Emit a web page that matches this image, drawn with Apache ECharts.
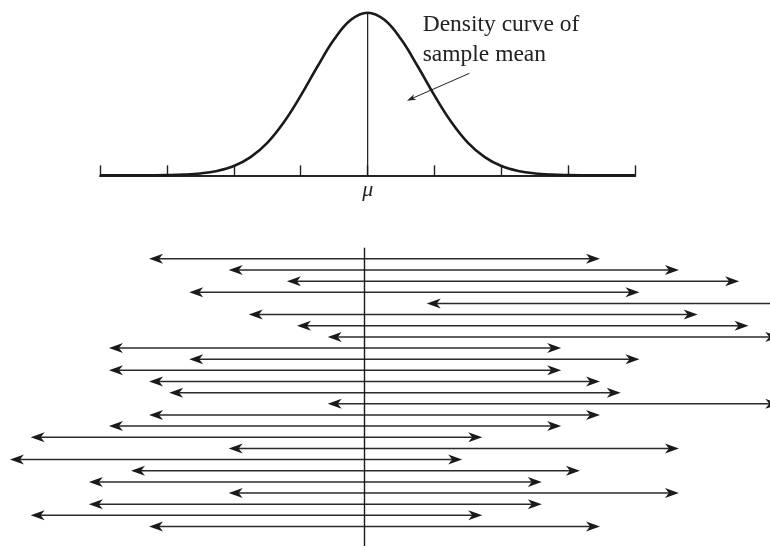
<!DOCTYPE html>
<html><head><meta charset="utf-8">
<script src="https://cdn.jsdelivr.net/npm/echarts@6/dist/echarts.min.js"></script>
<style>html,body{margin:0;padding:0;background:#fff}#c{width:770px;height:546px}</style>
</head><body><div id="c"></div>
<script>
// Density curve of the sample mean (x in tick units, mu = 0), heights relative to the peak
const curveX = [-4,-3.75,-3.5,-3.25,-3,-2.75,-2.5,-2.25,-2,-1.75,-1.5,-1.25,-1,-0.75,-0.5,-0.25,0,0.25,0.5,0.75,1,1.25,1.5,1.75,2,2.25,2.5,2.75,3,3.25,3.5,3.75,4];
const curveY = [0,0,0.0002,0.0005,0.0016,0.0045,0.0115,0.027,0.057,0.112,0.2,0.328,0.49,0.669,0.836,0.956,1,0.956,0.836,0.669,0.49,0.328,0.2,0.112,0.057,0.027,0.0115,0.0045,0.0016,0.0005,0.0002,0,0];
const tickValues = [-4,-3,-2,-1,0,1,2,3,4];
const tickLabels = ['', '', '', '', 'μ', '', '', '', ''];
const mu = 0;
// Confidence intervals (lower / upper ends), one per row from top to bottom
const intervalLower = [-3.22,-2.03,-1.16,-2.62,0.93,-1.73,-1.01,-0.55,-3.82,-2.62,-3.82,-3.22,-2.92,-0.55,-3.22,-3.82,-4.99,-2.03,-5.30,-3.49,-4.12,-2.03,-4.12,-4.99,-3.22];
const intervalUpper = [3.52,4.70,5.60,4.11,7.68,4.98,5.74,6.20,2.94,4.11,2.94,3.52,3.83,6.20,3.52,2.94,1.76,4.70,1.46,3.22,2.65,4.70,2.65,1.76,3.52];
const annotationLines = ['Density curve of', 'sample mean'];
const annotationArrow = [[1.52, 0.627], [0.587, 0.459]]; // tail, tip

function headPoints(tail, tip, len, half, notch) {
  const dx = tip[0] - tail[0], dy = tip[1] - tail[1];
  const d = Math.hypot(dx, dy) || 1, ux = dx / d, uy = dy / d, px = -uy, py = ux;
  return [
    [tip[0], tip[1]],
    [tip[0] - ux * len + px * half, tip[1] - uy * len + py * half],
    [tip[0] - ux * notch, tip[1] - uy * notch],
    [tip[0] - ux * len - px * half, tip[1] - uy * len - py * half]
  ];
}

const curveData = curveX.map((x, i) => [x, curveY[i]]);
const intervalData = intervalLower.map((lo, i) => [lo, intervalUpper[i], i]);

const chart = echarts.init(document.getElementById('c'), null, {renderer: 'canvas'});
chart.setOption({
  animation: false,
  backgroundColor: '#fff',
  grid: [
    {left: 100, right: 134.7, top: 12.7, bottom: 370.7},
    {left: 96.9, right: 137.9, top: 247.7, bottom: 0}
  ],
  xAxis: [
    {gridIndex: 0, type: 'value', min: -4, max: 4, interval: 1,
      axisLine: {show: true, onZero: false, lineStyle: {color: '#222', width: 2}},
      axisTick: {show: true, inside: true, length: 10, lineStyle: {color: '#222', width: 1.4}},
      axisLabel: {show: true, margin: 4, fontFamily: 'Liberation Serif', fontStyle: 'italic', fontSize: 22, color: '#222',
        formatter: v => { const k = tickValues.indexOf(v); return k >= 0 ? tickLabels[k] : ''; }},
      splitLine: {show: false}},
    {gridIndex: 1, type: 'value', min: -4, max: 4, show: false}
  ],
  yAxis: [
    {gridIndex: 0, type: 'value', min: 0, max: 1, show: false},
    {gridIndex: 1, type: 'value', min: -1, max: 25.75, inverse: true, show: false}
  ],
  graphic: [
    {type: 'text', left: 422.7, top: 10.6, silent: true,
      style: {text: annotationLines.join('\n'), fontFamily: 'Liberation Serif', fontSize: 23.5, lineHeight: 29.4, fill: '#222'}}
  ],
  series: [
    {type: 'line', xAxisIndex: 0, yAxisIndex: 0, data: curveData, smooth: 0.4, showSymbol: false, clip: false, silent: true,
      lineStyle: {color: '#1a1a1a', width: 2.6}},
    {type: 'line', xAxisIndex: 0, yAxisIndex: 0, data: [[mu, 0], [mu, 1]], showSymbol: false, clip: false, silent: true,
      lineStyle: {color: '#1a1a1a', width: 1.2}},
    {type: 'line', xAxisIndex: 1, yAxisIndex: 1, data: [[mu, -1], [mu, 25.75]], showSymbol: false, clip: false, silent: true,
      lineStyle: {color: '#1a1a1a', width: 1.4}},
    {type: 'custom', xAxisIndex: 1, yAxisIndex: 1, data: intervalData, silent: true, clip: false,
      encode: {x: [0, 1], y: 2},
      renderItem: function (params, api) {
        const lo = api.value(0), hi = api.value(1), r = api.value(2);
        const p1 = api.coord([lo, r]), p2 = api.coord([hi, r]);
        return {type: 'group', children: [
          {type: 'line', shape: {x1: p1[0] + 9, y1: p1[1], x2: p2[0] - 9, y2: p2[1]}, style: {stroke: '#2a2a2a', lineWidth: 1.5}},
          {type: 'polygon', shape: {points: headPoints(p2, p1, 14, 5, 10)}, style: {fill: '#1a1a1a'}},
          {type: 'polygon', shape: {points: headPoints(p1, p2, 14, 5, 10)}, style: {fill: '#1a1a1a'}}
        ]};
      }},
    {type: 'custom', xAxisIndex: 0, yAxisIndex: 0, data: [[annotationArrow[0][0], annotationArrow[0][1], annotationArrow[1][0], annotationArrow[1][1]]],
      silent: true, clip: false, encode: {x: [0, 2], y: [1, 3]},
      renderItem: function (params, api) {
        const a = api.coord([api.value(0), api.value(1)]), b = api.coord([api.value(2), api.value(3)]);
        const h = headPoints(a, b, 9, 3, 6.5);
        return {type: 'group', children: [
          {type: 'line', shape: {x1: a[0], y1: a[1], x2: h[2][0], y2: h[2][1]}, style: {stroke: '#222', lineWidth: 1}},
          {type: 'polygon', shape: {points: h}, style: {fill: '#222'}}
        ]};
      }}
  ]
});
</script></body></html>
